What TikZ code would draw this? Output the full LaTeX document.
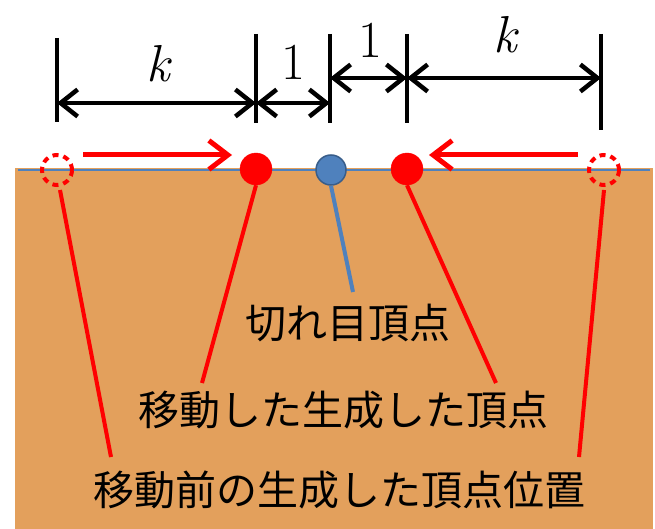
\documentclass[tikz,border=0pt]{standalone}
\usepackage{fontspec}
\newfontfamily\jpfont{Noto Sans CJK JP}
\usetikzlibrary{arrows.meta}
\definecolor{ground}{RGB}{227,160,92}
\definecolor{cutblue}{RGB}{79,129,189}
\definecolor{cutedge}{RGB}{56,93,138}
\definecolor{vred}{RGB}{255,0,0}
\begin{document}
\begin{tikzpicture}[x=1pt,y=-1pt,
  barb/.tip={Straight Barb[length=17pt,width=27pt,line width=4.5pt]},
  movebarb/.tip={Straight Barb[length=19pt,width=29pt,line width=5pt]},
  dimline/.style={line width=4pt,black},
  dimarrow/.style={line width=4.5pt,black,barb-barb},
  movearrow/.style={line width=5pt,vred,-movebarb},
  genvertex/.style={circle,fill=vred,draw=vred,inner sep=0pt,minimum size=32pt},
  oldvertex/.style={circle,draw=vred,line width=4pt,dash pattern=on 6pt off 5pt,inner sep=0pt,minimum size=30pt},
  cutvertex/.style={circle,fill=cutblue,draw=cutedge,line width=1.5pt,inner sep=0pt,minimum size=30pt},
  redleader/.style={line width=4pt,vred},
  blueleader/.style={line width=4pt,cutblue},
  jplabel/.style={font=\jpfont\fontsize{41}{41}\selectfont,inner sep=0pt},
  dimlabel/.style={font=\fontsize{52}{52}\selectfont,inner sep=0pt}]
\useasboundingbox (0,0) rectangle (655,529);
\fill[white] (0,0) rectangle (655,529);

% ground and its surface line
\fill[ground] (15,168) rectangle (653,529);
\draw[cutblue,line width=2.5pt] (18,170) -- (650,170);

% vertices on the surface
\node[oldvertex] (oldL) at (57,170) {};
\node[genvertex] (newL) at (256,169) {};
\node[cutvertex] (cut) at (331,170) {};
\node[genvertex] (newR) at (407,169) {};
\node[oldvertex] (oldR) at (604,170) {};

% movement of the generated vertices
\coordinate (mvLs) at (83,155);
\coordinate (mvLe) at (232,155);
\coordinate (mvRs) at (578,155);
\coordinate (mvRe) at (429,155);
\draw[movearrow] (mvLs) -- (mvLe);
\draw[movearrow] (mvRs) -- (mvRe);

% dimension ticks
\coordinate (t1a) at (57,38);   \coordinate (t1b) at (57,122);
\coordinate (t2a) at (256,34);  \coordinate (t2b) at (256,123);
\coordinate (t3a) at (330,34);  \coordinate (t3b) at (330,123);
\coordinate (t4a) at (407,34);  \coordinate (t4b) at (407,123);
\coordinate (t5a) at (601,34);  \coordinate (t5b) at (601,130);
\foreach \t in {1,...,5} \draw[dimline] (t\t a) -- (t\t b);

% dimension arrows
\coordinate (d1) at (57,103);  \coordinate (d2) at (256,103);
\coordinate (d3) at (330,103);
\coordinate (e3) at (330,78);  \coordinate (e4) at (407,78);
\coordinate (e5) at (601,78);
\draw[dimarrow] (d1) -- (d2);
\draw[dimarrow] (d2) -- (d3);
\draw[dimarrow] (e3) -- (e4);
\draw[dimarrow] (e4) -- (e5);

\node[dimlabel] (kL) at (158,64) {\itshape k};
\node[dimlabel] (oneL) at (293,62) {1};
\node[dimlabel] (oneR) at (370,40) {1};
\node[dimlabel] (kR) at (505,35) {\itshape k};

% labels
\node[jplabel] (cutlabel) at (348,323) {切れ目頂点};
\node[jplabel] (movedlabel) at (343,410) {移動した生成した頂点};
\node[jplabel] (oldlabel) at (339,490) {移動前の生成した頂点位置};

% leader lines
\coordinate (lOldL) at (111,457);
\coordinate (lNewL) at (202,383);
\coordinate (lCut) at (353,292);
\coordinate (lNewR) at (496,383);
\coordinate (lOldR) at (579,457);
\draw[redleader] (oldL.south) ++(3,3) -- (lOldL);
\draw[redleader] (newL.south) -- (lNewL);
\draw[blueleader] (cut.south) -- (lCut);
\draw[redleader] (newR.south) -- (lNewR);
\draw[redleader] (oldR.south) ++(0,3) -- (lOldR);
\end{tikzpicture}
\end{document}
